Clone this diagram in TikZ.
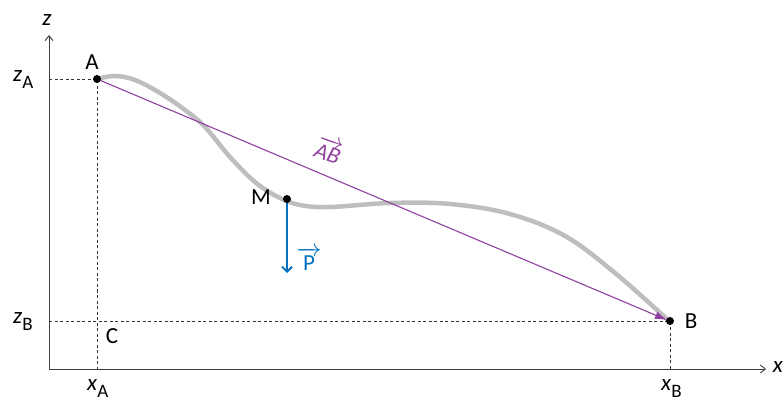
\documentclass[tikz,border=0pt]{standalone}
\usepackage{fontspec}
\setmainfont{Carlito}
\usetikzlibrary{arrows.meta,calc}
\definecolor{vpurple}{RGB}{146,64,160}
\definecolor{vblue}{RGB}{0,112,192}
\definecolor{curvegray}{RGB}{190,190,190}
\newcommand{\vecarrow}[1]{\ensuremath{\overrightarrow{\mbox{#1}}}}
\newcommand{\lowsub}[1]{\raisebox{-7pt}{\fontsize{19}{20}\selectfont #1}}
\begin{document}
\begin{tikzpicture}[x=1pt,y=-1pt,
  lbl/.style={font=\fontsize{23}{24}\selectfont, inner sep=1pt},
  sublbl/.style={lbl, anchor=base west},
  guide/.style={line width=0.7pt, dash pattern=on 3pt off 2.5pt, black!80},
  axis/.style={line width=0.9pt, black!75, -{Straight Barb[length=5pt,width=8pt]}},
  pt/.style={circle, fill=black, inner sep=0pt, minimum size=8pt}]
\useasboundingbox (0,0) rectangle (784,403);
% axes
\coordinate (O) at (49,369);
\coordinate (zt) at (49,35);
\coordinate (xt) at (766,369);
\draw[axis] (O) -- (zt);
\draw[axis] (O) -- (xt);
\node[lbl] (zl) at (47,20) {\textit{z}};
\node[lbl] (xl) at (778,367) {\textit{x}};
% points
\coordinate (A) at (97,79);
\coordinate (B) at (670,321);
\coordinate (M) at (287,199);
\coordinate (zA) at (49,79);
\coordinate (zB) at (49,321);
\coordinate (xA) at (97,369);
\coordinate (xB) at (670,369);
\coordinate (Bt) at (667,320);
% guides
\draw[guide] (zA) -- (A) -- (xA);
\draw[guide] (zB) -- (B) -- (xB);
% curve
\draw[curvegray, line width=4.5pt, line cap=round] plot[smooth, tension=0.6] coordinates {
 (97,79) (115,76) (135,80) (160,93) (185,110) (205,127) (230,157) (255,182) (278,197) (300,205) (330,207) (390,203) (450,204) (510,214) (565,236) (615,273) (668,320)};
% AB vector
\draw[vpurple, line width=1.1pt, -{Latex[length=12pt,width=8pt]}] (A) -- (Bt);
\node[lbl, text=vpurple, rotate=-20] (ABl) at (329,150) {\vecarrow{\textit{AB}}};
% P vector
\coordinate (Pe) at (287,273);
\draw[vblue, line width=1.8pt, -{Straight Barb[length=5pt,width=10pt]}] (M) -- (Pe);
\node[lbl, text=vblue] (Pl) at (309,259) {\vecarrow{P}};
% dots
\node[pt] (Ad) at (A) {};
\node[pt] (Bd) at (B) {};
\node[pt] (Md) at (M) {};
% labels
\node[lbl] (Al) at (92,62) {A};
\node[lbl] (Bl) at (691,321) {B};
\node[lbl] (Ml) at (261,197) {M};
\node[lbl] (Cl) at (112,336) {C};
\node[sublbl] (zAl) at (12,82) {\textit{z}\lowsub{A}};
\node[sublbl] (zBl) at (12,323) {\textit{z}\lowsub{B}};
\node[sublbl] (xAl) at (86,390) {\textit{x}\lowsub{A}};
\node[sublbl] (xBl) at (660,390) {\textit{x}\lowsub{B}};
\end{tikzpicture}
\end{document}
